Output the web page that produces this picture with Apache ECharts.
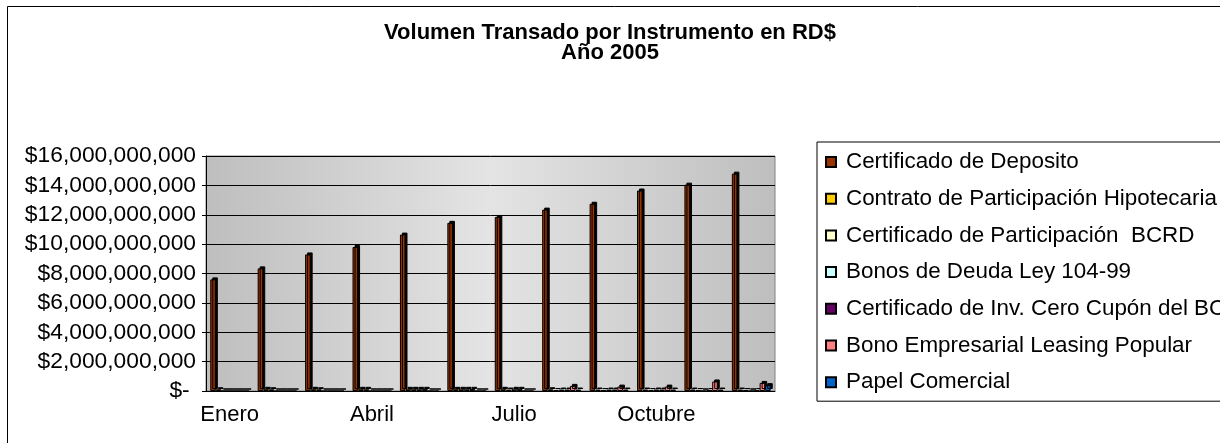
<!DOCTYPE html>
<html>
<head>
<meta charset="utf-8">
<title>Volumen Transado por Instrumento en RD$</title>
<script src="https://cdn.jsdelivr.net/npm/echarts@6/dist/echarts.min.js"></script>
<style>
  html, body { margin: 0; padding: 0; background: #fff; }
  #chart { width: 1220px; height: 443px; }
</style>
</head>
<body>
<div id="chart"></div>
<script>
  // datos (RD$)
  var meses = ['Enero', 'Febrero', 'Marzo', 'Abril', 'Mayo', 'Junio', 'Julio', 'Agosto', 'Septiembre', 'Octubre', 'Noviembre', 'Diciembre']
  var certDeposito = [7600000000, 8350000000, 9300000000, 9800000000, 10650000000, 11450000000, 11850000000, 12350000000, 12750000000, 13650000000, 14050000000, 14800000000]
  var contratoHipotecaria = [120000000, 150000000, 150000000, 150000000, 150000000, 150000000, 150000000, 120000000, 100000000, 100000000, 100000000, 100000000]
  var certParticipacion = [0, 120000000, 120000000, 150000000, 150000000, 150000000, 100000000, 60000000, 60000000, 60000000, 60000000, 60000000]
  var bonosLey = [0, 0, 0, 0, 150000000, 150000000, 150000000, 100000000, 100000000, 100000000, 0, 0]
  var ceroCupon = [0, 0, 0, 0, 150000000, 150000000, 150000000, 100000000, 100000000, 100000000, 60000000, 60000000]
  var bonoLeasing = [0, 0, 0, 0, 0, 0, 0, 350000000, 300000000, 300000000, 650000000, 550000000]
  var papelComercial = [0, 0, 0, 0, 0, 0, 0, 100000000, 100000000, 100000000, 100000000, 400000000]
  var yMax = 16000000000
  var yStep = 2000000000

  var fuente = '"Liberation Sans", Arial, sans-serif'

  function serie(nombre, color, datos) {
    return {
      name: nombre,
      type: 'bar',
      barGap: '0%',
      barCategoryGap: '18%',
      itemStyle: {
        color: color,
        borderColor: '#000',
        borderWidth: 1,
        // cara lateral del 3D de Excel
        shadowColor: '#000',
        shadowBlur: 0,
        shadowOffsetX: 2,
        shadowOffsetY: -2
      },
      data: datos
    }
  }

  var chart = echarts.init(document.getElementById('chart'))
  chart.setOption({
    animation: false,
    graphic: [
      {
        type: 'rect',
        silent: true,
        shape: { x: 7.5, y: 6.5, width: 1400, height: 600 },
        style: { fill: 'none', stroke: '#000', lineWidth: 1 }
      }
    ],
    title: {
      text: 'Volumen Transado por Instrumento en RD$\nAño 2005',
      left: 'center',
      top: 23,
      padding: 0,
      textStyle: {
        fontFamily: fuente,
        fontSize: 22,
        fontWeight: 'bold',
        lineHeight: 20,
        color: '#000'
      }
    },
    legend: {
      orient: 'vertical',
      left: 817,
      top: 142,
      padding: [9, 10, 8, 8],
      itemGap: 14.7,
      itemWidth: 10,
      itemHeight: 10,
      icon: 'rect',
      borderColor: '#000',
      borderWidth: 1,
      itemStyle: { shadowOffsetX: 0, shadowOffsetY: 0, shadowColor: 'transparent' },
      textStyle: {
        fontFamily: fuente,
        fontSize: 22.4,
        lineHeight: 22,
        color: '#000',
        padding: [0, 0, 0, 5]
      }
    },
    grid: {
      left: 206,
      right: 445,
      top: 156,
      bottom: 52,
      show: true,
      borderColor: '#808080',
      borderWidth: 1,
      backgroundColor: new echarts.graphic.LinearGradient(0, 0, 1, 0, [
        { offset: 0, color: '#bebebe' },
        { offset: 0.5, color: '#e4e4e4' },
        { offset: 1, color: '#bebebe' }
      ])
    },
    xAxis: {
      type: 'category',
      data: meses,
      axisLine: { lineStyle: { color: '#000', width: 1 } },
      axisTick: { interval: 0, length: 6, lineStyle: { color: '#000' } },
      axisLabel: {
        interval: 2,
        margin: 13,
        fontFamily: fuente,
        fontSize: 22,
        color: '#000'
      }
    },
    yAxis: {
      type: 'value',
      min: 0,
      max: yMax,
      interval: yStep,
      axisLine: { show: true, lineStyle: { color: '#000' } },
      axisTick: { show: true, length: 4, lineStyle: { color: '#000' } },
      splitLine: { lineStyle: { color: '#000', width: 1 } },
      axisLabel: {
        margin: 10,
        fontFamily: fuente,
        fontSize: 22.8,
        color: '#000',
        formatter: function (v) {
          if (v === 0) return '$- '
          return '$' + String(v).replace(/\B(?=(\d{3})+(?!\d))/g, ',')
        }
      }
    },
    series: [
      serie('Certificado de Deposito', '#993300', certDeposito),
      serie('Contrato de Participación Hipotecaria', '#ffcc00', contratoHipotecaria),
      serie('Certificado de Participación  BCRD', '#ffffcc', certParticipacion),
      serie('Bonos de Deuda Ley 104-99', '#ccffff', bonosLey),
      serie('Certificado de Inv. Cero Cupón del BCRD', '#660066', ceroCupon),
      serie('Bono Empresarial Leasing Popular', '#ff8080', bonoLeasing),
      serie('Papel Comercial', '#0066cc', papelComercial)
    ]
  })
</script>
</body>
</html>
